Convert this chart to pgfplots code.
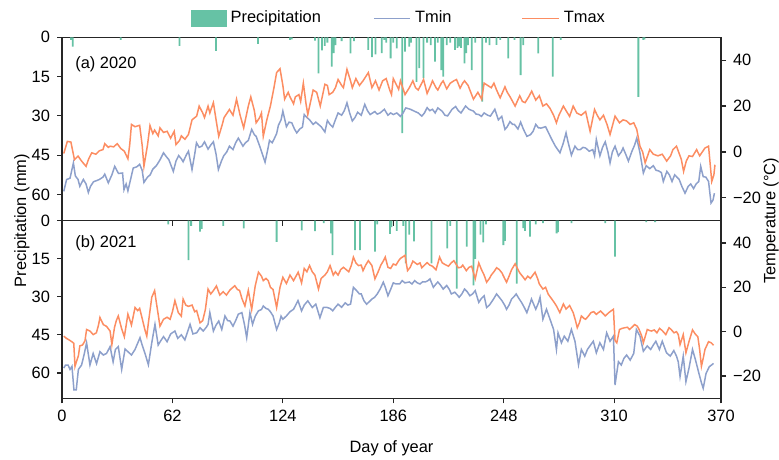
\documentclass[border=0pt]{standalone}
\usepackage{fontspec}
\setmainfont{Liberation Sans}
\usepackage{pgfplots}
\pgfplotsset{compat=1.18}
\definecolor{cpre}{HTML}{66C2A5}
\definecolor{cmin}{HTML}{8DA0CB}
\definecolor{cmax}{HTML}{FC8D62}
\newcommand{\fs}{\fontsize{8.2}{9.8}\selectfont}
\pgfplotsset{
  base/.style={scale only axis, width=329.5pt, xmin=0, xmax=370,
    xtick={0,62,124,186,248,310,370}, tick align=outside, major tick length=2.5pt,
    axis line style={black!85, line width=0.6pt}, every tick/.style={black!85, line width=0.6pt},
    font=\fs, /pgf/number format/assume math mode=true},
  precax/.style={base, ymin=0, ymax=70, y dir=reverse, ytick={0,15,30,45,60},
    ytick pos=left, xtick pos=bottom},
  tempax/.style={base, ymin=-30, ymax=50, ytick={-20,0,20,40}, yticklabels={−20,0,20,40},
    axis y line*=right, axis x line=none, ytick pos=right, yticklabel pos=right},
  barst/.style={ybar, bar width=1, bar shift=0pt, fill=cpre, draw=none,
    legend image code/.code={\fill[cpre] (0pt,-4.2pt) rectangle (18pt,4.2pt);}},
  minst/.style={cmin, line width=0.75pt, no marks,
    legend image code/.code={\draw[cmin, line width=0.75pt] (0pt,0pt) -- (18.3pt,0pt);}},
  maxst/.style={cmax, line width=0.75pt, no marks,
    legend image code/.code={\draw[cmax, line width=0.75pt] (0pt,0pt) -- (18.3pt,0pt);}},
  legst/.style={legend style={draw=none, fill=none, inner sep=0pt, outer sep=0pt, font=\fs}},
}
\begin{document}
\begin{tikzpicture}
\useasboundingbox (-31pt,-30.35pt) rectangle (358.5pt,199.15pt);
% ---------- top panel: 2020 ----------
\begin{axis}[precax, height=91.7pt, at={(0pt,88.8pt)}, anchor=south west, xticklabels={},
  legst, legend style={at={(axis description cs:0.1953,1.1036)}, anchor=west}]
\addplot[barst] coordinates {(5,1)(6,3.6)(33,1)(66,3.3)(86.5,5.2)(110,2.5)(128,1)(129,0.8)(142,1.3)(144,13.8)(146,5)(147.5,3.3)(149,2)(151.5,11.2)(152.5,6)(153.5,3)(157,1.5)(162,6.1)(164,1.5)(172,4.8)(174,7.6)(176,6.5)(179.5,6)(181,1)(182,2)(184.5,8)(186,2)(188,4.2)(191,36.6)(192.6,5.5)(195,3.6)(196,2)(199,17)(200.6,11.8)(203,15.6)(205,2)(207,3)(209.4,9.3)(211,2)(213,12.5)(214,15)(216,3)(218,2)(220.7,4.8)(222,4)(223,3.5)(224,4)(226,10)(227,6)(228,3)(230,12.5)(232,2)(236,24.6)(238,2)(240,3)(244,2.9)(246,1)(250.6,8)(254,1)(257.5,14.4)(259,3)(267.4,6.1)(275.5,15)(280,1)(323.6,22.7)(326.4,1)(327,0.8)};
\addlegendentry{Precipitation}
\node[anchor=west, inner sep=0pt] at (axis description cs:0.0197,0.853) {(a) 2020};
\end{axis}
\begin{axis}[tempax, height=91.7pt, at={(0pt,88.8pt)}, anchor=south west,
  legst, legend style={at={(axis description cs:0.472,1.1036)}, anchor=west}]
\addplot[minst] coordinates {(1,-17.2)(2.6,-12)(4.5,-11.5)(6.4,-4.8)(7.5,-10.5)(9,-12)(10,-15)(12,-12)(13.5,-14)(14.8,-17.7)(16,-15)(17.7,-13)(19.5,-12.5)(21,-12)(23,-11)(24,-9.7)(26,-13.5)(28,-10)(29.6,-6.3)(31.7,-9.4)(34,-9.2)(34.8,-16.5)(36,-14)(37,-17)(38.5,-12)(40,-7)(42,-6.5)(43.6,-5.4)(45,-8)(46,-13.3)(48,-11)(49.5,-10)(51,-7.5)(53,-6)(55,-3.5)(57,-0.4)(58.5,-2)(60,-3.4)(62.5,-8.5)(64,-4)(65.5,-1.6)(67,-3)(68,-4.3)(70,-1)(71,0.3)(73,-7.7)(74.5,-1)(75.5,4)(77,2)(78.5,2.5)(80,4.4)(82,1.2)(83.5,3)(85,4.4)(86.5,-1)(87.8,-7.7)(89.5,-4)(90.8,-1.7)(92.5,0)(94,2.5)(96,1)(97.5,4)(99,6)(100.5,4)(101.6,2.5)(103,4)(104.6,5)(106.5,9.8)(108,7.5)(109,6.8)(111,2.5)(112.5,-1)(114,-4.5)(115.5,1)(116.5,5)(118,4)(119,5.5)(120.5,8)(121.5,11.6)(123,14)(124,17.8)(126,11)(127.5,13)(129,12.7)(130.5,10)(131.8,8.3)(133.5,10)(135,10.8)(136,16.3)(137.5,15)(139,14)(141,12)(142.5,13)(144,12)(145.5,11)(147.6,8.7)(149,13.7)(150.5,12)(152,10.8)(153.5,14)(155,17)(157,16)(158.5,18)(160,21.4)(161.5,17)(163,13.5)(164.5,15)(166,17.3)(168,16)(170,20.7)(171.5,18)(173,16.3)(175.6,17.6)(177,16.5)(178.6,17)(181,18.6)(183,16)(184.5,17)(186,16.3)(188,17)(190,15.5)(191.5,17)(193,19.2)(195.6,18.6)(198,17.7)(200,17)(202,15.6)(203.5,17)(205,19.3)(206.5,18)(208,18.6)(209.5,17)(211,19.2)(213.5,17.7)(215,16)(216.5,15.7)(219,18.6)(221,19.8)(222.5,18)(224,17)(226.6,20)(228.5,18.6)(231,17.8)(232.5,16.5)(234,16.3)(235.5,15.5)(237,17)(239,16)(240.5,15.6)(243,18.6)(245,14)(246.9,15.5)(248.7,9.8)(250,11)(251.5,13.2)(253,12)(254,12)(256,10)(257.5,13)(259,10)(261,6.8)(263,7.5)(264.5,9)(266,12)(267.5,10.5)(269,10.4)(271.5,11)(273.5,7.8)(275,5.4)(277,2.5)(279.6,-0.4)(281.5,4)(283,8.3)(284,4.7)(286,-1.4)(288,2.5)(289.5,1)(291,1)(292.5,2)(294,1.7)(296,0.3)(298,1)(299,-1.7)(300,5.4)(302,-1.7)(303.5,2)(305,4.4)(306.5,0)(307.7,-4.8)(309,0)(310.5,2.5)(312.4,-1.7)(314,0)(315,1.7)(316.5,-1)(318,-4)(320,0.3)(321.5,3)(322.7,6)(324.5,-0.4)(326.4,-9.2)(328,-6)(330,-7.3)(332,-6)(333.5,-8)(335,-8.3)(336.5,-9)(337.6,-12.9)(339.6,-8.5)(341,-10)(342.5,-12.9)(344,-10)(345,-10.8)(346.5,-12)(348,-15)(349.8,-18)(351.6,-15)(353,-14)(354.6,-16)(356,-14)(357.5,-12.9)(358.6,-6.3)(360,-10.8)(361.5,-11)(363,-12.9)(364.4,-22.3)(365.5,-21)(366.3,-18)};
\addlegendentry{Tmin}
\addplot[maxst, forget plot] coordinates {(1,-0.7)(3,4.6)(5,4.3)(7,-3.4)(9,-1.8)(11,-4)(13.5,-6.3)(15,-3)(16.7,-0.4)(19,-1)(21,0.5)(23,1)(24,3.6)(26,2)(27,2.5)(29,2.2)(31,3.6)(33,1.5)(35,0.3)(37,-3)(38,3)(39,12)(41,11)(43.6,11.6)(45,3)(46,-6.3)(48,3)(49.4,11.5)(51,8)(52,9.5)(54,7)(55,10.5)(57,8.5)(59,9)(61,6)(63,9)(64,3.2)(66,5)(67,7)(69,5.5)(71,7.6)(73,14)(75.6,15.6)(77,20)(79,17)(80,15)(82,20)(83,17)(85,21.5)(86.5,14)(88,6.8)(90,12)(91,15)(94,18.5)(96,16)(98,23)(100,16)(102,10.5)(104.6,20)(106,24)(108,18)(109,12.7)(111,15)(112,17)(113,6.8)(115,14)(117,20)(119,28)(120.5,34.6)(122.4,36.3)(124,29)(125,23)(127,26)(128,24)(130,21)(131,24)(133,25)(134,22)(135.5,30)(137,21)(138,16.3)(141,27)(143,26)(145,20)(147.6,29.5)(149,29)(150,25)(152,26)(153.5,28)(155,31.6)(157,29)(158,28)(160,36)(162,31)(163,28)(165,32)(167,29)(169,31)(172,34.6)(174,28)(176,31)(178,27)(180,31)(182,32)(184,27)(185,25)(186,32)(189,27.3)(190,31)(192.6,25)(195,28)(197,31)(198.5,28)(200,27)(202,30)(203,31.6)(205,25.5)(207,29)(208,31)(210,28)(211,27)(213,30)(214,31)(216,27.5)(218,30)(220,31)(221.5,31.6)(223.5,27.8)(225,30)(226,31)(228,29)(229.5,26)(231,23)(233.5,26)(235.6,23)(237,30)(239,29)(241,28)(242.5,30)(244,27)(246,23.6)(248.7,28.4)(250,26)(251.6,24)(253,22)(254.4,20)(257,24.5)(258.5,22)(260,21.5)(262,24)(263.7,26.5)(266,22.6)(268,24.5)(270,20)(272,21)(274,19)(276,16)(277.6,12.7)(279,16)(281.5,20)(283,18)(285,15.5)(287,20)(289,17)(291.5,16)(294,17.6)(296.5,9)(299,18.5)(300.5,16)(302,14)(304,16)(306,12)(307.7,7.6)(310.5,15.6)(313,12.7)(315,14)(317,13.5)(319,12)(321,12.7)(322.7,9.8)(324.5,2.5)(326,0)(327.4,-4.8)(330,1)(332,-1)(334.6,-1.7)(337,-1)(339.5,-4)(341.7,-1.7)(343,1)(345,2.5)(347.7,-3.2)(349,-8.5)(350.5,-4)(352,-1.7)(354,-2)(356.3,1)(358,-1.7)(359.5,0)(361,1.7)(363,2.5)(364.8,-12.9)(366,-10)(366.6,-5.6)};
\end{axis}
% ---------- bottom panel: 2021 ----------
\begin{axis}[precax, height=88.8pt, at={(0pt,0pt)}, anchor=south west]
\addplot[barst] coordinates {(59.7,1.5)(71,15.5)(72.5,2)(77.5,4.3)(78.5,3.2)(90.5,2)(102,3)(120.5,8.3)(134.6,3.8)(142,4.1)(147,1)(151,5)(151.9,13.6)(164.5,11.6)(167.3,11.6)(175.7,12.2)(177,1.5)(184.2,5.2)(185,2.5)(188,4)(191.6,2)(193,16.8)(195,5.5)(197.6,8.2)(207.5,16.8)(216.3,10.9)(218,2)(221.6,26.8)(227.2,10.2)(231,25.5)(232,15)(235,5.5)(236.5,8.5)(238,1.5)(247.8,9.6)(248.7,8)(255.3,24.8)(259,2.9)(260,4)(262.8,6.3)(266,1.5)(270,1)(277.7,5)(278.5,4.5)(286,1)(305,1)(310.5,14.2)(328,0.6)(333,0.6)};
\node[anchor=west, inner sep=0pt] at (axis description cs:0.0197,0.874) {(b) 2021};
\end{axis}
\begin{axis}[tempax, height=88.8pt, at={(0pt,0pt)}, anchor=south west,
  legst, legend style={at={(axis description cs:0.6976,2.1396)}, anchor=west}]
\addplot[minst, forget plot] coordinates {(1,-16.4)(2,-15)(3.4,-15)(4.5,-17)(5.6,-15.6)(6.7,-26.2)(8,-26.2)(9.2,-17)(11,-15)(12.5,-10)(13.8,-5)(15.7,-15)(17.5,-9.8)(19.4,-14.4)(21.3,-9)(23.2,-10.5)(25,-9.8)(27,-6.7)(28.7,-13.6)(30,-8)(31.6,-6.7)(33.5,-17)(35.4,-7.8)(37,-9)(39,-10.5)(41,-8)(43.8,-2.7)(45,-6)(46.6,-9.8)(48.5,-14.9)(50.4,-5)(52.2,3.3)(54,-6)(55.5,-4)(57,-2.2)(59,-4.5)(61,-1)(63.4,0.3)(65,-3)(67,-1.4)(69,-3.7)(71.9,3.3)(73.5,-1)(75.6,-0.5)(77.5,1.8)(79.3,0.3)(81,2)(82,3.3)(83,8.6)(85,0.3)(86.5,3)(88,4.8)(89.7,1)(91.5,7.1)(93,5)(94.3,4.8)(96,2.5)(97.5,5)(99,7.9)(101,8.6)(102.5,3)(103.7,-2.7)(105.5,8.6)(107,3.3)(108.5,7)(110.3,9.4)(112,10)(113,11.6)(114.5,10.5)(115.8,10.1)(117,9)(118.5,7.1)(120.5,1)(122,4)(123,7)(124,5.6)(126,7.1)(128,9)(130,10.1)(132.5,14)(134.5,9.4)(136,12)(138,13.9)(140.5,10.9)(142.5,12.4)(144.8,6.3)(146.7,10.9)(148.5,11)(150.5,10.5)(152,9.4)(153.5,11)(155,12.4)(157,11)(159,13)(160.5,12)(162,12.4)(163.6,20)(165.4,18.5)(167,17)(168,17)(169.5,14)(171,12.4)(172.5,13.5)(174,14.7)(175.5,15.5)(177,17)(178.6,19.2)(180.4,22.3)(181.5,20)(183,16.2)(184.5,19)(186,22)(187.5,21.5)(189.6,21.5)(191,23)(192.5,22)(195,22.4)(196.5,21.5)(198,23)(199.5,22)(201,21.5)(202.5,22.5)(204,22.4)(205.5,23)(206.6,23.8)(208.5,20)(210,21.5)(211,22.4)(212.5,21)(214,19.2)(216,20.8)(217.5,19)(218.6,17)(220.5,17.8)(222,16.5)(223,15.5)(224.5,17)(226,19.2)(227.5,18)(229,16.2)(230.5,17)(232,18.5)(234,13.2)(235.5,15)(237,16.2)(238.4,10.9)(240,12)(241,13.2)(242.5,15)(244,17)(245.5,15.5)(247,14)(248.5,12)(249.6,10.1)(251,12)(252.4,14.7)(254,16)(255,17)(256.5,15)(258,13.2)(259.5,11)(261,8.6)(262.5,12)(263.6,14.7)(265,12)(266,10.1)(267.5,13)(268.4,15.5)(270,5.6)(272,10.1)(274,5.6)(276,1)(277.6,-8)(278.5,-0.5)(280.4,-5)(282,-2)(284,-4.3)(286,1)(288,-4.3)(290,-14.9)(291.6,-8)(293.5,-11)(295,-8)(296.4,-6.4)(298.3,-4.3)(300,-9.5)(302,-5)(304,-8)(305.8,-0.5)(307.7,-4.3)(309.6,-2)(310.5,-24)(312.4,-13.5)(314,-15)(315.5,-12)(317,-10.5)(319,-12.8)(321,-9.8)(322.5,1)(324.5,-2)(326.4,-8.8)(328.6,-6.4)(330.5,-8)(332,-6)(333.4,-4.3)(335.4,-8)(337,-4.3)(339.4,-9.5)(341.5,-11)(343.5,-8.5)(345,-11)(346,-13.6)(347,-20.2)(348.8,-11)(350.3,-22.5)(352,-16.5)(354,-8)(355.7,-12.8)(357.6,-18.8)(359,-23)(360,-25.5)(361.6,-18.8)(363.4,-15.8)(365.8,-14.3)};
\addplot[maxst] coordinates {(1,-2)(2.5,-3)(4,-3.7)(5.5,-4.5)(6.6,-5.2)(7.3,-15.6)(8.3,-13)(9.2,-10.9)(10,-6.4)(11.5,-6)(12.9,-4.1)(13.8,1)(15.7,0.3)(17.5,-1.3)(19.3,-0.5)(20.5,3)(21.3,6.4)(23.2,3.2)(25,2.4)(27,0.3)(28,-5.8)(29.5,2)(30.5,5)(31.6,7.1)(33.5,1.3)(35,-2.3)(37,7.9)(39,3)(41,10.9)(42.5,9.5)(43.6,10.5)(45,6)(46.5,1)(47.6,-2)(48.5,4)(50.4,15.5)(52,18.5)(53,13)(55,2.5)(57,5.6)(59,6.5)(60.7,5.6)(62,9)(63.4,14)(65.3,8.6)(67,7)(68,14.7)(69.5,12)(71,11.4)(73,12)(74.5,9)(75.6,9.5)(77.5,4)(79,5)(80.5,10)(82,19.2)(83.5,17)(85,18.5)(86.7,20.6)(88.6,16.5)(90.5,18)(92.3,16.5)(94.3,18.8)(97,20.7)(98.5,19)(99.7,18.6)(101,15)(102.7,11.6)(104.6,18.6)(106.5,10)(108.5,20.7)(110.3,26.8)(112,25)(113,23)(114.5,24)(115.8,23)(117,20)(118.5,19)(119.5,15)(120.5,10.9)(122.4,20)(124,24.5)(126,21.7)(128,25.5)(130,23)(132.6,26.8)(134.5,22)(136,28.5)(137.5,27)(139,29.8)(140.5,27)(142,25.5)(144,19.2)(145.5,24)(147.6,25.5)(149,27)(150.5,29.8)(152.3,25.5)(153.5,27)(155,25.5)(156.5,28)(158,29)(159.5,28)(161,27)(162.5,30)(163.6,33.6)(165,31)(166.4,29.8)(168,30)(169,27.5)(170.5,30)(172,32)(174,29.8)(175.7,23.8)(177.5,27)(179,30)(180.5,32)(181.5,33.6)(183,29)(184.5,28.5)(186,30.5)(187.5,30)(189,32)(190,33)(192.6,34.4)(194,27.5)(195.5,29)(197,31.8)(199.5,30.3)(201,31)(202,28.8)(203.5,30)(205,31.1)(206.5,30)(208,29.5)(210,27.9)(212,33.6)(213.5,31)(215,30.3)(217,29.5)(218.5,31)(220,32)(222.5,28.8)(224,29)(225,30)(227,27.5)(228.5,29)(230,29.5)(232,23.8)(234,31)(235.5,28)(237,25.5)(238.4,22.3)(240,24)(241,25.5)(242.5,27)(244,28.8)(245.5,28)(247,26.5)(248.5,24)(249.6,22.3)(251,25)(252.4,27.9)(254.4,30.6)(256,28)(257,26.5)(258.5,25)(260,23.4)(261.5,25)(263,24)(265.6,26.8)(267,24)(268,21.5)(270,19.2)(271.5,20)(273,16.9)(275,14.7)(276.5,13)(277.6,11.6)(279.5,8.6)(281.5,12.5)(283,10.2)(285,11.8)(287,8.6)(288.3,5)(289.3,1.8)(290.5,4)(291.6,7.1)(293,6)(294,5.6)(295.5,7)(297,8.6)(298.5,9)(300,7.8)(301,8.5)(302.4,9.3)(304,8)(305,7.1)(307,8.6)(308.5,9.5)(309.6,10.1)(310.5,-4)(311.5,-5)(313,1)(314.5,1.5)(316,1.8)(317.5,2)(318.6,1)(320,2)(321.5,3.2)(323,2.5)(324,1)(325.5,-2)(326.4,-5)(328.6,1)(330,0.5)(331,0.3)(332.5,0.8)(334,-0.5)(335.5,1.5)(337,0.5)(339,-1.3)(340.8,1.8)(342,1)(343.6,-0.5)(345,0)(346,-1.3)(347,-5.8)(348.8,-1.3)(350.3,-9.5)(352,-4.5)(354,0.8)(355.5,-1)(357,-2.3)(358,-8)(359,-15.6)(360,-12)(361,-8)(363,-4.5)(364.5,-5)(365.8,-6.1)};
\addlegendentry{Tmax}
\end{axis}
% ---------- axis titles ----------
\node[rotate=90, anchor=south, inner sep=0pt, font=\fs] at (-16pt,88.8pt) {Precipitation (mm)};
\node[rotate=90, anchor=north, inner sep=0pt, font=\fs] at (350.5pt,88.8pt) {Temperature (°C)};
\node[anchor=base, inner sep=0pt, font=\fs] at (164.75pt,-26.85pt) {Day of year};
\end{tikzpicture}
\end{document}
